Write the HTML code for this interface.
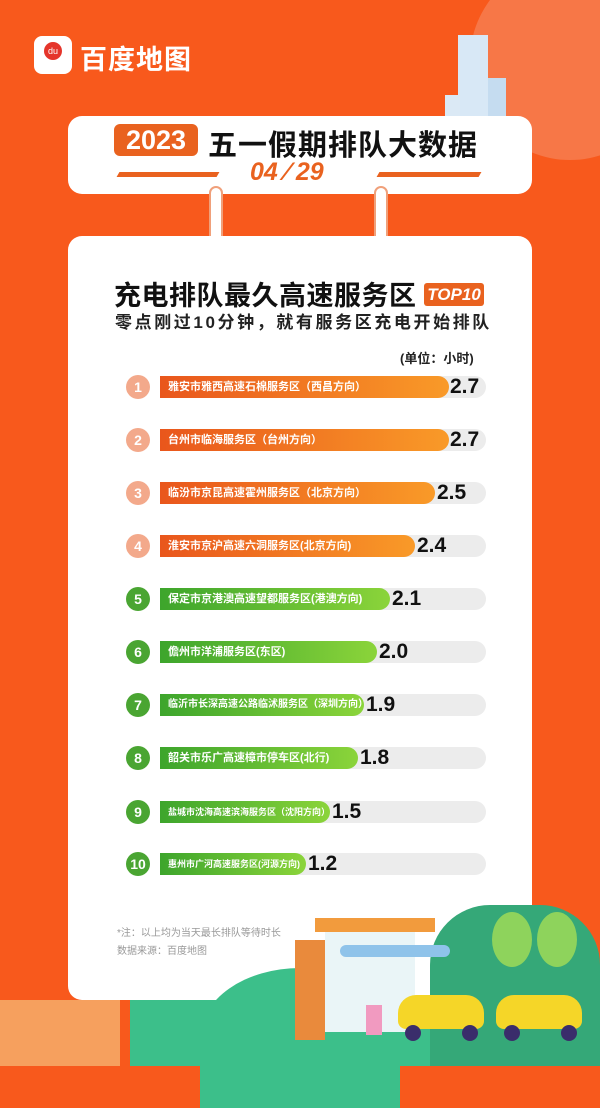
<!DOCTYPE html>
<html><head><meta charset="utf-8"><style>
*{margin:0;padding:0;box-sizing:border-box}
body{width:600px;height:1066px;overflow:hidden;background:#f8591c;font-family:"Liberation Sans","Noto Sans CJK SC",sans-serif;position:relative}
.abs{position:absolute}
.card{background:#fff;border-radius:14px}
.row{position:absolute;left:0;width:600px;height:24px}
.num{position:absolute;left:126px;top:0;width:24px;height:24px;border-radius:50%;color:#fff;font-weight:bold;font-size:14px;text-align:center;line-height:24px}
.track{position:absolute;left:160px;top:1px;width:326px;height:22px;border-radius:11px;background:#ececec}
.bar{position:absolute;left:160px;top:1px;height:22px;border-radius:0 11px 11px 0;color:#fff;font-size:11px;font-weight:bold;line-height:22px;padding-left:8px;white-space:nowrap;overflow:hidden}
.o{background:linear-gradient(90deg,#e9561c,#f99a28)}
.g{background:linear-gradient(90deg,#3da52c,#8bd43a)}
.val{position:absolute;top:0px;font-size:21px;line-height:24px;font-weight:bold;color:#111}
</style></head><body>
<div class="abs" style="left:470px;top:-40px;width:200px;height:200px;border-radius:50%;background:#f6845a;opacity:.7"></div>
<div class="abs" style="left:34px;top:36px;width:38px;height:38px;border-radius:8px;background:#fff"></div>
<div class="abs" style="left:44px;top:42px;width:18px;height:18px;border-radius:50%;background:#e5352b;color:#fff;font-size:9px;text-align:center;line-height:18px">du</div>
<div class="abs" style="left:80px;top:38px;color:#fff;font-size:27px;font-weight:bold;letter-spacing:1px">百度地图</div>
<div class="abs" style="left:458px;top:35px;width:30px;height:90px;background:#d8e8f6"></div>
<div class="abs" style="left:488px;top:78px;width:18px;height:50px;background:#c5dcf0"></div>
<div class="abs" style="left:445px;top:95px;width:15px;height:30px;background:#dbe9f5"></div>
<div class="card abs" style="left:68px;top:116px;width:464px;height:78px"></div>
<div class="abs" style="left:114px;top:124px;width:84px;height:32px;background:#e9621f;border-radius:6px;color:#fff;font-size:27px;font-weight:bold;text-align:center;line-height:32px">2023</div>
<div class="abs" style="left:208px;top:122px;font-size:29px;font-weight:bold;color:#111;letter-spacing:1px">五一假期排队大数据</div>
<div class="abs" style="left:118px;top:172px;width:100px;height:5px;background:#e9621f;transform:skewX(-30deg)"></div>
<div class="abs" style="left:378px;top:172px;width:102px;height:5px;background:#e9621f;transform:skewX(-30deg)"></div>
<div class="abs" style="left:250px;top:158px;font-size:25px;font-weight:bold;color:#e9621f;font-style:italic">04 ⁄ 29</div>
<div class="abs" style="left:209px;top:186px;width:14px;height:64px;border-radius:7px;background:#fff;border:2px solid #f0a07a"></div>
<div class="abs" style="left:374px;top:186px;width:14px;height:64px;border-radius:7px;background:#fff;border:2px solid #f0a07a"></div>
<div class="card abs" style="left:68px;top:236px;width:464px;height:764px"></div>
<div class="abs" style="left:114px;top:279px;font-size:27px;line-height:34px;font-weight:bold;color:#111;letter-spacing:0.5px">充电排队最久高速服务区</div>
<div class="abs" style="left:424px;top:283px;width:60px;height:23px;background:#e9621f;border-radius:3px;color:#fff;font-size:17px;font-weight:bold;text-align:center;line-height:23px;font-style:italic">TOP10</div>
<div class="abs" style="left:115px;top:311px;font-size:17px;line-height:24px;font-weight:bold;color:#222;letter-spacing:2.6px">零点刚过10分钟，就有服务区充电开始排队</div>
<div class="abs" style="left:400px;top:348px;font-size:13px;font-weight:bold;color:#222">(单位：小时)</div>

<div class="row" style="top:375px"><div class="num" style="background:#f3a98b">1</div><div class="track"></div><div class="bar o" style="width:289px">雅安市雅西高速石棉服务区（西昌方向）</div><div class="val" style="left:450px">2.7</div></div>
<div class="row" style="top:428px"><div class="num" style="background:#f3a98b">2</div><div class="track"></div><div class="bar o" style="width:289px">台州市临海服务区（台州方向）</div><div class="val" style="left:450px">2.7</div></div>
<div class="row" style="top:481px"><div class="num" style="background:#f3a98b">3</div><div class="track"></div><div class="bar o" style="width:275px">临汾市京昆高速霍州服务区（北京方向）</div><div class="val" style="left:437px">2.5</div></div>
<div class="row" style="top:534px"><div class="num" style="background:#f3a98b">4</div><div class="track"></div><div class="bar o" style="width:255px">淮安市京沪高速六洞服务区(北京方向)</div><div class="val" style="left:417px">2.4</div></div>
<div class="row" style="top:587px"><div class="num" style="background:#4aa532">5</div><div class="track"></div><div class="bar g" style="width:230px">保定市京港澳高速望都服务区(港澳方向)</div><div class="val" style="left:392px">2.1</div></div>
<div class="row" style="top:640px"><div class="num" style="background:#4aa532">6</div><div class="track"></div><div class="bar g" style="width:217px">儋州市洋浦服务区(东区)</div><div class="val" style="left:379px">2.0</div></div>
<div class="row" style="top:693px"><div class="num" style="background:#4aa532">7</div><div class="track"></div><div class="bar g" style="width:204px;font-size:10px">临沂市长深高速公路临沭服务区（深圳方向）</div><div class="val" style="left:366px">1.9</div></div>
<div class="row" style="top:746px"><div class="num" style="background:#4aa532">8</div><div class="track"></div><div class="bar g" style="width:198px">韶关市乐广高速樟市停车区(北行)</div><div class="val" style="left:360px">1.8</div></div>
<div class="row" style="top:800px"><div class="num" style="background:#4aa532">9</div><div class="track"></div><div class="bar g" style="width:170px;font-size:9px">盐城市沈海高速滨海服务区（沈阳方向）</div><div class="val" style="left:332px">1.5</div></div>
<div class="row" style="top:852px"><div class="num" style="background:#4aa532">10</div><div class="track"></div><div class="bar g" style="width:146px;font-size:9px">惠州市广河高速服务区(河源方向)</div><div class="val" style="left:308px">1.2</div></div>

<div class="abs" style="left:117px;top:924px;font-size:10px;color:#999">*注：以上均为当天最长排队等待时长</div>
<div class="abs" style="left:117px;top:942px;font-size:10px;color:#999">数据来源：百度地图</div>

<div class="abs" style="left:0;top:1000px;width:120px;height:66px;background:#f6a05e"></div>
<div class="abs" style="left:200px;top:968px;width:200px;height:140px;border-radius:50% 50% 0 0;background:#3cbf8a"></div>
<div class="abs" style="left:130px;top:1000px;width:470px;height:66px;background:#3cbf8a"></div>
<div class="abs" style="left:430px;top:905px;width:170px;height:161px;border-radius:60px 60px 0 0;background:#35a878"></div>
<div class="abs" style="left:295px;top:940px;width:30px;height:100px;background:#e98a3c"></div>
<div class="abs" style="left:315px;top:918px;width:120px;height:14px;background:#f29b3d"></div>
<div class="abs" style="left:325px;top:932px;width:90px;height:100px;background:#eaf5f7"></div>
<div class="abs" style="left:340px;top:945px;width:110px;height:12px;border-radius:6px;background:#8fc3ea"></div>
<div class="abs" style="left:366px;top:1005px;width:16px;height:30px;background:#f19ac0"></div>
<div class="abs" style="left:492px;top:912px;width:40px;height:55px;border-radius:50%;background:#8ed35c"></div>
<div class="abs" style="left:537px;top:912px;width:40px;height:55px;border-radius:50%;background:#8ed35c"></div>
<div class="abs" style="left:398px;top:995px;width:86px;height:34px;border-radius:18px 18px 8px 8px;background:#f5d628"></div>
<div class="abs" style="left:496px;top:995px;width:86px;height:34px;border-radius:18px 18px 8px 8px;background:#f5d628"></div>
<div class="abs" style="left:405px;top:1025px;width:16px;height:16px;border-radius:50%;background:#3a2d6b"></div>
<div class="abs" style="left:462px;top:1025px;width:16px;height:16px;border-radius:50%;background:#3a2d6b"></div>
<div class="abs" style="left:504px;top:1025px;width:16px;height:16px;border-radius:50%;background:#3a2d6b"></div>
<div class="abs" style="left:561px;top:1025px;width:16px;height:16px;border-radius:50%;background:#3a2d6b"></div>
</body></html>
